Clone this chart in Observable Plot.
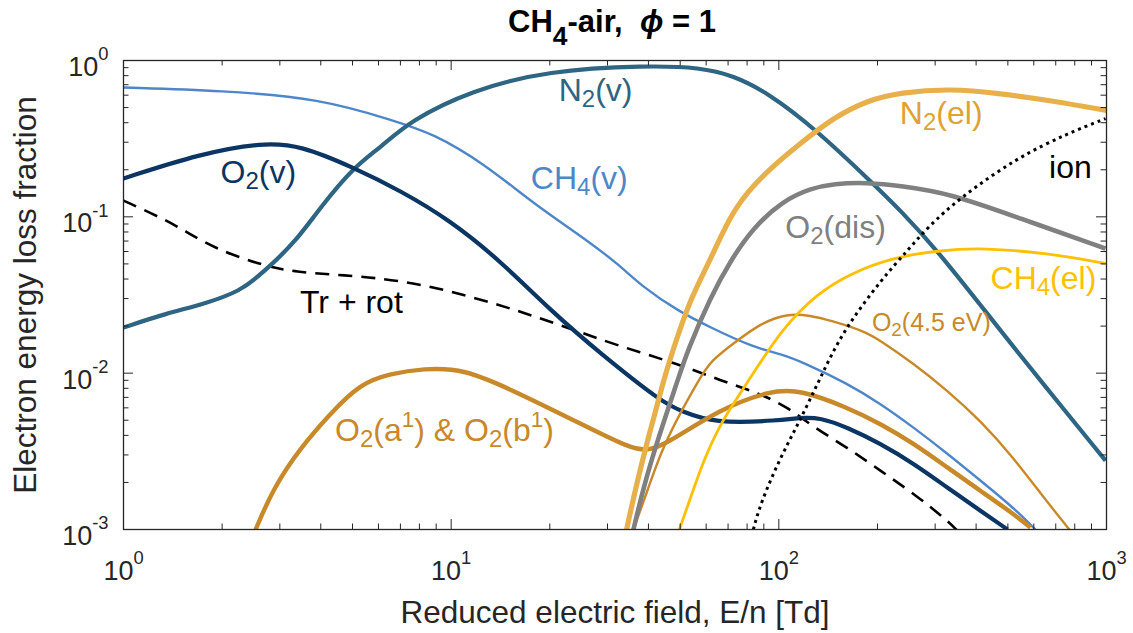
<!DOCTYPE html>
<html><head><meta charset="utf-8">
<script src="https://cdn.jsdelivr.net/npm/d3@7"></script>
<script src="https://cdn.jsdelivr.net/npm/@observablehq/plot@0.6"></script>
<style>body{margin:0;background:#fff} svg{display:block}</style>
</head><body><div id="chart"></div>
<script>
// ---------- tick values / labels ----------
const xMajor = [1, 10, 100, 1000];
const xTickLabels = ["10^{0}", "10^{1}", "10^{2}", "10^{3}"];
const yMajor = [0.001, 0.01, 0.1, 1];
const yTickLabels = ["10^{-3}", "10^{-2}", "10^{-1}", "10^{0}"];
const minorMult = [2, 3, 4, 5, 6, 7, 8, 9];

// ---------- series values: [E/n (Td), loss fraction] ----------
const ch4v = [[1,0.672],[2,0.643],[3.99,0.571],[6.67,0.413],[8.83,0.341],[12.6,0.219],[17.8,0.122],[25.3,0.0737],[32.2,0.0503],[38.6,0.0353],[49.1,0.0251],[61.8,0.0196],[83.7,0.0146],[101,0.0133],[119,0.0117],[162,0.00858],[204,0.00639],[258,0.00449],[327,0.00306],[412,0.00206],[520,0.00138],[607,0.001]];
const o2v = [[1,0.176],[1.72,0.254],[2.67,0.299],[3.47,0.286],[5.03,0.207],[7.0,0.147],[9.95,0.0947],[14.1,0.0525],[20.1,0.0252],[28.6,0.0133],[44.5,0.0064],[50.1,0.00577],[63.1,0.00476],[101,0.00498],[116,0.0052],[134,0.0052],[162,0.00449],[204,0.00355],[258,0.00264],[327,0.00185],[412,0.00132],[499,0.001]];
const n2v = [[1,0.0196],[1.35,0.0241],[1.79,0.0279],[2.28,0.0338],[2.55,0.0409],[2.81,0.0488],[3.37,0.0705],[3.99,0.115],[5.03,0.207],[6.09,0.278],[7.51,0.413],[11.5,0.643],[19.7,0.863],[39.7,0.929],[57.6,0.902],[72.6,0.802],[92.3,0.624],[129,0.367],[194,0.163],[235,0.110],[305,0.061],[475,0.0187],[629,0.00897],[993,0.00276]];
const trRot = [[1,0.127],[1.36,0.0947],[1.6,0.0773],[1.94,0.0618],[2.55,0.0503],[3.3,0.044],[5.14,0.0421],[7.67,0.038],[11.2,0.0314],[15.9,0.0252],[22.6,0.0196],[32.2,0.015],[49.1,0.0115],[66.4,0.00897],[87.9,0.0074],[108,0.00594],[128,0.00449],[162,0.00334],[204,0.00238],[258,0.0017],[327,0.00114],[351,0.00098]];
const o2ab = [[2.53,0.001],[2.87,0.00185],[3.47,0.00334],[4.28,0.00552],[5.28,0.00858],[6.53,0.00993],[8.23,0.0107],[10.9,0.0107],[15.5,0.00774],[24.8,0.00476],[35.2,0.0033],[39.7,0.0032],[44.5,0.00344],[66.4,0.00594],[94.3,0.00774],[116,0.00785],[162,0.00603],[204,0.00476],[258,0.00355],[327,0.00249],[412,0.00177],[520,0.00126],[586,0.00103]];
const n2el = [[34.3,0.001],[37.0,0.00206],[40.5,0.0043],[44.5,0.00897],[46.7,0.0126],[53.8,0.0305],[61.8,0.0525],[72.6,0.115],[92.3,0.198],[116,0.294],[147,0.432],[186,0.555],[235,0.624],[334,0.662],[475,0.615],[674,0.555],[1000,0.479]];
const o2dis = [[36.0,0.001],[38.6,0.00185],[42.6,0.00371],[49.1,0.00897],[52.6,0.0139],[61.8,0.0305],[71.2,0.0525],[83.6,0.0855],[103,0.127],[125,0.152],[147,0.163],[186,0.166],[235,0.158],[334,0.141],[535,0.099],[993,0.0627]];
const ch4el = [[49.7,0.001],[53.8,0.0016],[58.9,0.00276],[66.4,0.00476],[74.8,0.00698],[81.9,0.00937],[103,0.0196],[131,0.0323],[165,0.0434],[224,0.055],[305,0.0608],[421,0.0636],[674,0.0582],[993,0.0503]];
const o245 = [[36.0,0.001],[40.0,0.00185],[43.5,0.00306],[49.1,0.0052],[56.9,0.00897],[61.8,0.012],[74.8,0.0162],[87.9,0.0208],[106,0.0241],[125,0.0234],[144,0.0217],[181,0.0187],[204,0.0162],[258,0.0115],[327,0.00774],[412,0.00498],[520,0.00288],[629,0.0017],[776,0.00098]];
const ion = [[83.6,0.001],[87.9,0.00147],[101,0.00288],[116,0.00498],[134,0.00937],[157,0.0187],[208,0.0409],[247,0.0608],[284,0.0855],[358,0.133],[535,0.24],[760,0.341],[993,0.425]];

// ---------- curve labels (text and anchor in data coordinates) ----------
const labelText = ["O_{2}(v)", "N_{2}(v)", "CH_{4}(v)", "Tr + rot", "O_{2}(a^{1}) & O_{2}(b^{1})", "N_{2}(el)", "ion", "O_{2}(dis)", "CH_{4}(el)", "O_{2}(4.5 eV)"];
const labelX = [2.58, 27.6, 24.6, 4.96, 9.54, 313, 776, 149, 642, 292];
const labelY = [0.192, 0.643, 0.176, 0.0283, 0.0043, 0.458, 0.207, 0.0855, 0.0403, 0.0208];

const titleText = "CH_{4}-air,  *{ϕ} = 1";
const xLabel = "Reduced electric field, E/n [Td]";
const yLabel = "Electron energy loss fraction";

// ---------- styles ----------
const AX = "#262626";
const FONT = "'Liberation Sans', Arial, Helvetica, sans-serif";
const W = 1133, H = 633, ML = 123, MR = 27, MT = 60, MB = 104;
const IW = W - ML - MR, IH = H - MT - MB;

const seriesList = [
  {data: ch4v, stroke: "#4e87c9", w: 2.4},
  {data: trRot, stroke: "#000000", w: 2.6, dash: "14,9"},
  {data: n2v, stroke: "#2e6583", w: 4.2},
  {data: o2v, stroke: "#0b3563", w: 4.2},
  {data: o245, stroke: "#c8892a", w: 2.4},
  {data: o2ab, stroke: "#c8892a", w: 4.4},
  {data: ch4el, stroke: "#ffc000", w: 2.8},
  {data: o2dis, stroke: "#808080", w: 4.6},
  {data: n2el, stroke: "#e8b04a", w: 5.2},
  {data: ion, stroke: "#000000", w: 3, dash: "3,4"}
];
const labelColor = ["#0b3563", "#2e6583", "#4e87c9", "#000000", "#c8892a", "#e0a232", "#000000", "#808080", "#ffc000", "#c8892a"];
const labelSize = [32, 32, 32, 32, 32, 32, 32, 32, 32, 25];

const xMinor = [1, 10, 100].flatMap(d => minorMult.map(m => d * m));
const yMinor = [0.001, 0.01, 0.1].flatMap(d => minorMult.map(m => d * m));
const idx = labelText.map((_, i) => i);

const marks = [];
for (const s of seriesList) {
  marks.push(Plot.line(s.data, {
    x: d => d[0], y: d => d[1], stroke: s.stroke, strokeWidth: s.w,
    strokeDasharray: s.dash, strokeLinecap: "butt", strokeLinejoin: "round",
    curve: "basis", clip: true
  }));
}
// inner ticks on all four sides
const MAJ = 10, MIN = 5.5;
marks.push(
  Plot.tickX(xMajor, {x: d => d, insetTop: IH - MAJ, stroke: AX}),
  Plot.tickX(xMajor, {x: d => d, insetBottom: IH - MAJ, stroke: AX}),
  Plot.tickX(xMinor, {x: d => d, insetTop: IH - MIN, stroke: AX}),
  Plot.tickX(xMinor, {x: d => d, insetBottom: IH - MIN, stroke: AX}),
  Plot.tickY(yMajor, {y: d => d, insetRight: IW - MAJ, stroke: AX}),
  Plot.tickY(yMajor, {y: d => d, insetLeft: IW - MAJ, stroke: AX}),
  Plot.tickY(yMinor, {y: d => d, insetRight: IW - MIN, stroke: AX}),
  Plot.tickY(yMinor, {y: d => d, insetLeft: IW - MIN, stroke: AX}),
  Plot.frame({stroke: AX, strokeWidth: 1.3}),
  // tick labels
  Plot.text(xMajor, {x: d => d, frameAnchor: "bottom", lineAnchor: "middle", textAnchor: "middle", text: (d, i) => xTickLabels[i], dy: 42, fontSize: 27, fill: AX}),
  Plot.text(yMajor, {y: d => d, frameAnchor: "left", lineAnchor: "middle", textAnchor: "end", text: (d, i) => yTickLabels[i], dx: -15, dy: 7, fontSize: 27, fill: AX}),
  // axis titles
  Plot.text([xLabel], {frameAnchor: "bottom", lineAnchor: "middle", textAnchor: "middle", text: d => d, dy: 83, fontSize: 31.5, fill: AX}),
  Plot.text([yLabel], {frameAnchor: "left", lineAnchor: "middle", textAnchor: "middle", text: d => d, rotate: -90, dx: -98, fontSize: 31.5, fill: AX}),
  // title
  Plot.text([titleText], {frameAnchor: "top", lineAnchor: "middle", textAnchor: "middle", text: d => d, dy: -38, dx: -3, fontSize: 31, fontWeight: "bold", fill: "#000"}),
  // curve labels
  Plot.text(idx, {x: i => labelX[i], y: i => labelY[i], text: i => labelText[i], fill: i => labelColor[i], fontSize: i => labelSize[i], lineAnchor: "middle", textAnchor: "middle"})
);

const chart = Plot.plot({
  width: W, height: H,
  marginLeft: ML, marginRight: MR, marginTop: MT, marginBottom: MB,
  x: {type: "log", domain: [1, 1000], axis: null},
  y: {type: "log", domain: [0.001, 1], axis: null},
  color: {type: "identity"},
  style: {fontFamily: FONT, background: "#fff", overflow: "visible"},
  marks
});
document.getElementById("chart").appendChild(chart);

// rich text: _{sub}, ^{sup}, *{italic}
function cfgFor(s) {
  if (s.startsWith("10^")) return {sub: [0.7, 0.2], sup: [0.68, 0.58]};
  if (s.includes("-air")) return {sub: [0.85, 0.42], sup: [0.7, 0.45]};
  return {sub: [0.75, 0.2], sup: [0.7, 0.42]};
}
const NS = "http://www.w3.org/2000/svg";
chart.querySelectorAll("text").forEach(t => {
  const s = t.textContent;
  if (!/[_^*]\{/.test(s)) return;
  const cfg = cfgFor(s);
  const fs = parseFloat(getComputedStyle(t).fontSize);
  while (t.firstChild) t.removeChild(t.firstChild);
  const re = /([_^*])\{([^}]*)\}|([^_^*]+)/g;
  let m, cur = 0;
  while ((m = re.exec(s))) {
    const ts = document.createElementNS(NS, "tspan");
    let target = 0;
    if (m[1] === "_") { target = cfg.sub[1] * fs; ts.setAttribute("font-size", cfg.sub[0] * fs); }
    else if (m[1] === "^") { target = -cfg.sup[1] * fs; ts.setAttribute("font-size", cfg.sup[0] * fs); }
    else if (m[1] === "*") { ts.setAttribute("font-style", "italic"); }
    ts.textContent = m[1] ? m[2] : m[3];
    if (target !== cur) ts.setAttribute("dy", (target - cur).toFixed(2));
    cur = target;
    t.appendChild(ts);
  }
});
</script>
</body></html>
